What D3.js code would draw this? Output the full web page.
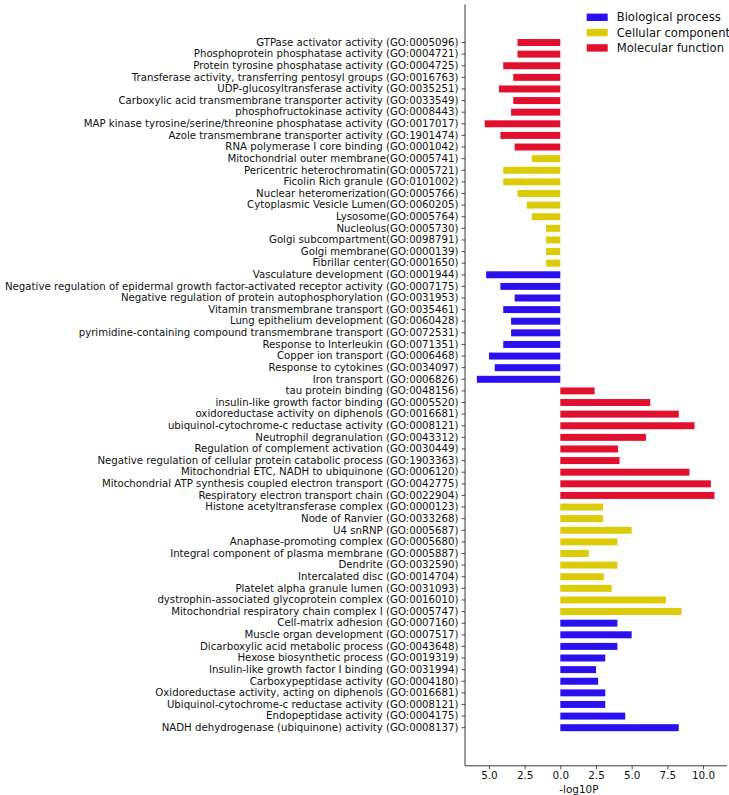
<!DOCTYPE html>
<html><head><meta charset="utf-8">
<script src="https://cdn.jsdelivr.net/npm/d3@7"></script>
<style>
body{margin:0;background:#fff;}
text{font-family:"DejaVu Sans",sans-serif;fill:#111;}
</style></head>
<body>
<svg id="chart" width="729" height="795"></svg>
<script>
const categories = [
"GTPase activator activity (GO:0005096)",
"Phosphoprotein phosphatase activity (GO:0004721)",
"Protein tyrosine phosphatase activity (GO:0004725)",
"Transferase activity, transferring pentosyl groups (GO:0016763)",
"UDP-glucosyltransferase activity (GO:0035251)",
"Carboxylic acid transmembrane transporter activity (GO:0033549)",
"phosphofructokinase activity (GO:0008443)",
"MAP kinase tyrosine/serine/threonine phosphatase activity (GO:0017017)",
"Azole transmembrane transporter activity (GO:1901474)",
"RNA polymerase I core binding (GO:0001042)",
"Mitochondrial outer membrane(GO:0005741)",
"Pericentric heterochromatin(GO:0005721)",
"Ficolin Rich granule (GO:0101002)",
"Nuclear heteromerization(GO:0005766)",
"Cytoplasmic Vesicle Lumen(GO:0060205)",
"Lysosome(GO:0005764)",
"Nucleolus(GO:0005730)",
"Golgi subcompartment(GO:0098791)",
"Golgi membrane(GO:0000139)",
"Fibrillar center(GO:0001650)",
"Vasculature development (GO:0001944)",
"Negative regulation of epidermal growth factor-activated receptor activity (GO:0007175)",
"Negative regulation of protein autophosphorylation (GO:0031953)",
"Vitamin transmembrane transport (GO:0035461)",
"Lung epithelium development (GO:0060428)",
"pyrimidine-containing compound transmembrane transport (GO:0072531)",
"Response to Interleukin (GO:0071351)",
"Copper ion transport (GO:0006468)",
"Response to cytokines (GO:0034097)",
"Iron transport (GO:0006826)",
"tau protein binding (GO:0048156)",
"insulin-like growth factor binding (GO:0005520)",
"oxidoreductase activity on diphenols (GO:0016681)",
"ubiquinol-cytochrome-c reductase activity (GO:0008121)",
"Neutrophil degranulation (GO:0043312)",
"Regulation of complement activation (GO:0030449)",
"Negative regulation of cellular protein catabolic process (GO:1903363)",
"Mitochondrial ETC, NADH to ubiquinone (GO:0006120)",
"Mitochondrial ATP synthesis coupled electron transport (GO:0042775)",
"Respiratory electron transport chain (GO:0022904)",
"Histone acetyltransferase complex (GO:0000123)",
"Node of Ranvier (GO:0033268)",
"U4 snRNP (GO:0005687)",
"Anaphase-promoting complex (GO:0005680)",
"Integral component of plasma membrane (GO:0005887)",
"Dendrite (GO:0032590)",
"Intercalated disc (GO:0014704)",
"Platelet alpha granule lumen (GO:0031093)",
"dystrophin-associated glycoprotein complex (GO:0016010)",
"Mitochondrial respiratory chain complex I (GO:0005747)",
"Cell-matrix adhesion (GO:0007160)",
"Muscle organ development (GO:0007517)",
"Dicarboxylic acid metabolic process (GO:0043648)",
"Hexose biosynthetic process (GO:0019319)",
"Insulin-like growth factor I binding (GO:0031994)",
"Carboxypeptidase activity (GO:0004180)",
"Oxidoreductase activity, acting on diphenols (GO:0016681)",
"Ubiquinol-cytochrome-c reductase activity (GO:0008121)",
"Endopeptidase activity (GO:0004175)",
"NADH dehydrogenase (ubiquinone) activity (GO:0008137)"
];
const values = [
-3.0,-3.0,-4.0,-3.3,-4.3,-3.3,-3.45,-5.3,-4.2,-3.2,
-2.0,-4.0,-4.0,-3.0,-2.35,-2.0,-1.0,-1.0,-1.0,-1.0,
-5.2,-4.2,-3.2,-4.0,-3.45,-3.45,-4.0,-5.0,-4.6,-5.85,
2.4,6.3,8.3,9.4,6.0,4.05,4.15,9.05,10.55,10.8,
3.0,3.0,5.0,4.0,2.0,4.0,3.05,3.6,7.4,8.5,
4.0,5.0,4.0,3.15,2.5,2.65,3.15,3.15,4.55,8.3
];
const groups = [
"MF","MF","MF","MF","MF","MF","MF","MF","MF","MF",
"CC","CC","CC","CC","CC","CC","CC","CC","CC","CC",
"BP","BP","BP","BP","BP","BP","BP","BP","BP","BP",
"MF","MF","MF","MF","MF","MF","MF","MF","MF","MF",
"CC","CC","CC","CC","CC","CC","CC","CC","CC","CC",
"BP","BP","BP","BP","BP","BP","BP","BP","BP","BP"
];
const legendKeys = ["BP","CC","MF"];
const legendLabels = ["Biological process","Cellular component","Molecular function"];
const legendColors = ["#2a10ee","#dccb08","#e2102f"];
const xTicks = [-5,-2.5,0,2.5,5,7.5,10];
const xLabel = "-log10P";

(function(){
const data = categories.map((c,i)=>({cat:c,val:values[i],grp:groups[i]}));
const svg = d3.select("#chart");
const color = d3.scaleOrdinal().domain(legendKeys).range(legendColors);

const pLeft = 465, pRight = 727, pTop = 4.4, pBottom = 765.8;
const x = d3.scaleLinear().domain([-6.68, 11.68]).range([pLeft, pRight]);
const y = d3.scaleBand().domain(categories).range([36.7, 733.5]).paddingInner(0.4).paddingOuter(0.2);

svg.append("g").selectAll("rect").data(data).join("rect")
  .attr("x", d=>x(Math.min(0,d.val)))
  .attr("width", d=>Math.abs(x(d.val)-x(0)))
  .attr("y", d=>y(d.cat))
  .attr("height", y.bandwidth())
  .attr("fill", d=>color(d.grp));

const ya = svg.append("g").attr("transform",`translate(${pLeft},0)`)
  .call(d3.axisLeft(y).tickSize(3.5).tickPadding(3).tickSizeOuter(0));
ya.select(".domain").remove();
ya.selectAll(".tick line").attr("stroke","#222").attr("stroke-width",0.8);
const ytexts = ya.selectAll(".tick text").attr("font-size","10.2px").attr("font-family","DejaVu Sans");
let maxW = 0;
ytexts.each(function(){ maxW = Math.max(maxW, this.getComputedTextLength()); });
const ysx = Math.min(1, 459/maxW);
ytexts.attr("x",0).attr("transform",`translate(-6.5,0) scale(${ysx},1)`);

const xa = svg.append("g").attr("transform",`translate(0,${pBottom})`)
  .call(d3.axisBottom(x).tickValues(xTicks).tickFormat(d=>Math.abs(d).toFixed(1)).tickSize(3.5).tickPadding(2).tickSizeOuter(0));
xa.select(".domain").remove();
xa.selectAll(".tick line").attr("stroke","#222").attr("stroke-width",0.8);
xa.selectAll(".tick text").attr("font-size","10.4px").attr("font-family","DejaVu Sans")
  .attr("transform",`scale(${ysx},1)`).attr("x",0);

svg.append("line").attr("x1",pLeft).attr("x2",pLeft).attr("y1",pTop).attr("y2",pBottom).attr("stroke","#222").attr("stroke-width",0.9);
svg.append("line").attr("x1",pLeft).attr("x2",pRight).attr("y1",pBottom).attr("y2",pBottom).attr("stroke","#222").attr("stroke-width",0.9);

svg.append("text").attr("transform",`translate(${x(1.3)},792.5) scale(${ysx},1)`)
  .attr("text-anchor","middle").attr("font-size","10.4px").text(xLabel);

const lg = svg.append("g");
legendLabels.forEach((l,i)=>{
  const cy = 17.3 + i*15.3;
  lg.append("rect").attr("x",586.7).attr("y",cy-3.7).attr("width",21).attr("height",7.4).attr("fill",legendColors[i]);
  lg.append("text").attr("transform",`translate(616.7,${cy+4}) scale(${ysx},1)`).attr("font-size","11.6px").text(l);
});
})();
</script>
</body></html>
